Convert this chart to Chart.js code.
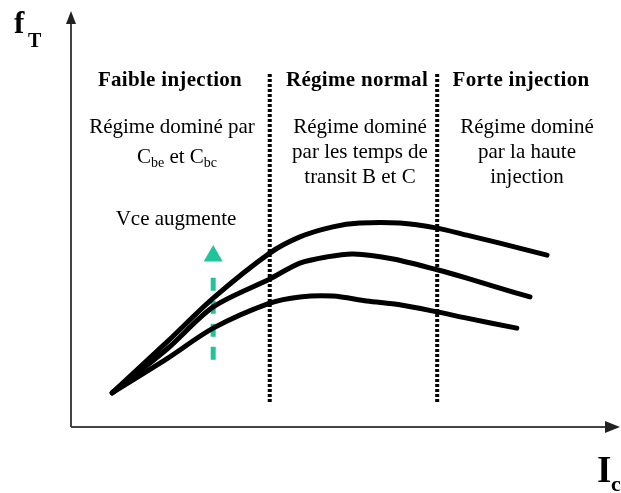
<!DOCTYPE html>
<html>
<head>
<meta charset="utf-8">
<script src="https://cdn.jsdelivr.net/npm/chart.js@4/dist/chart.umd.min.js"></script>
<style>
html,body{margin:0;padding:0;background:#fff;}
#wrap{width:621px;height:493px;position:relative;}
</style>
</head>
<body>
<div id="wrap"><canvas id="c" width="621" height="493"></canvas></div>
<script>
// ---- data (arbitrary units: Ic on x, fT on y) ----
const curveHighX = [0.75, 1.75, 2.59, 3.62, 4.17, 4.77, 5.26, 5.99, 6.67, 7.21, 7.81, 8.31, 8.67];
const curveHighY = [0.82, 2.04, 3.09, 4.17, 4.56, 4.80, 4.89, 4.89, 4.77, 4.60, 4.41, 4.24, 4.12];
const curveMidX  = [0.75, 1.75, 2.59, 3.62, 4.17, 4.66, 5.14, 5.87, 6.67, 7.21, 7.81, 8.36];
const curveMidY  = [0.82, 1.87, 2.88, 3.55, 3.93, 4.08, 4.15, 4.03, 3.77, 3.57, 3.33, 3.12];
const curveLowX  = [0.75, 1.75, 2.59, 3.62, 4.17, 4.77, 5.39, 5.99, 6.67, 7.21, 8.12];
const curveLowY  = [0.82, 1.64, 2.37, 2.97, 3.12, 3.14, 3.02, 2.93, 2.76, 2.61, 2.37];
const regionBounds = [3.62, 6.67];
const regionSpanY = [0.60, 8.51];
const vceArrowX = 2.59;
const vceArrowShaftY = [1.61, 3.65];
const vceArrowHeadY = 4.10;
const regionTitles = ["Faible injection", "Régime normal", "Forte injection"];
const regionDescriptions = [
  ["Régime dominé par"],
  ["Régime dominé", "par les temps de", "transit B et C"],
  ["Régime dominé", "par la haute", "injection"]
];
const vceLabel = "Vce augmente";

const pts = (xs, ys) => xs.map((x, i) => ({x: x, y: ys[i]}));

const curveStyle = {borderColor:'#000', borderWidth:5, pointRadius:0, tension:0.3, fill:false, borderCapStyle:'round', borderJoinStyle:'round'};
const datasets = [
  Object.assign({label:'haut', data: pts(curveHighX, curveHighY)}, curveStyle),
  Object.assign({label:'milieu', data: pts(curveMidX, curveMidY)}, curveStyle),
  Object.assign({label:'bas', data: pts(curveLowX, curveLowY)}, curveStyle)
];
regionBounds.forEach((b, i) => {
  datasets.push({label:'limite'+i, data: pts([b, b], regionSpanY), borderColor:'#000', borderWidth:4,
    borderDash:[3,2], pointRadius:0, tension:0, borderCapStyle:'butt'});
});
datasets.push({label:'vce', data: pts([vceArrowX, vceArrowX], vceArrowShaftY), borderColor:'#1fc49b', borderWidth:5,
  borderDash:[13,10], pointRadius:0, tension:0, borderCapStyle:'butt'});
datasets.push({label:'vceHead', data: [{x: vceArrowX, y: vceArrowHeadY}], showLine:false, pointStyle:'triangle',
  pointRadius:11, pointBackgroundColor:'#1fc49b', pointBorderColor:'#1fc49b', pointBorderWidth:0});

const decor = {
  id: 'decor',
  afterDatasetsDraw(chart) {
    const ctx = chart.ctx;
    const xs = chart.scales.x, ys = chart.scales.y;
    const x0 = xs.getPixelForValue(0), y0 = ys.getPixelForValue(0);
    const xEnd = xs.getPixelForValue(10), yEnd = ys.getPixelForValue(10);
    ctx.save();
    // axes
    ctx.strokeStyle = '#444'; ctx.fillStyle = '#222'; ctx.lineWidth = 2;
    ctx.beginPath(); ctx.moveTo(x0, y0); ctx.lineTo(xEnd - 10, y0); ctx.stroke();
    ctx.beginPath(); ctx.moveTo(x0, y0); ctx.lineTo(x0, yEnd + 10); ctx.stroke();
    ctx.beginPath(); ctx.moveTo(xEnd, y0); ctx.lineTo(xEnd - 15, y0 - 6); ctx.lineTo(xEnd - 15, y0 + 6); ctx.closePath(); ctx.fill();
    ctx.beginPath(); ctx.moveTo(x0, yEnd + 1); ctx.lineTo(x0 - 5, yEnd + 14); ctx.lineTo(x0 + 5, yEnd + 14); ctx.closePath(); ctx.fill();
    // texts
    ctx.fillStyle = '#000';
    ctx.textBaseline = 'alphabetic';
    ctx.textAlign = 'center';
    ctx.font = 'bold 21px "Liberation Serif"';
    try { ctx.letterSpacing = '0.3px'; } catch(e) {}
    const titleX = [170, 357, 521];
    regionTitles.forEach((t, i) => ctx.fillText(t, titleX[i], 86));
    try { ctx.letterSpacing = '0px'; } catch(e) {}
    ctx.font = '21px "Liberation Serif"';
    const descX = [172, 360, 527];
    regionDescriptions.forEach((lines, i) => {
      lines.forEach((l, j) => ctx.fillText(l, descX[i], 133 + 25 * j));
    });
    ctx.fillText(vceLabel, 176, 225);
    // C_be et C_bc
    ctx.textAlign = 'left';
    const parts = [['C', 21, 0], ['be', 14, 4], [' et C', 21, 0], ['bc', 14, 4]];
    let total = 0;
    parts.forEach(p => { ctx.font = p[1] + 'px "Liberation Serif"'; total += ctx.measureText(p[0]).width; });
    let cx = 177 - total / 2;
    parts.forEach(p => { ctx.font = p[1] + 'px "Liberation Serif"'; ctx.fillText(p[0], cx, 163 + p[2]); cx += ctx.measureText(p[0]).width; });
    // axis titles
    ctx.font = 'bold 31px "Liberation Serif"'; ctx.fillText('f', 14, 33);
    ctx.font = 'bold 20px "Liberation Serif"'; ctx.fillText('T', 28, 47);
    ctx.font = 'bold 37px "Liberation Serif"'; ctx.fillText('I', 597, 482);
    ctx.font = 'bold 22px "Liberation Serif"'; ctx.fillText('c', 611, 491);
    ctx.restore();
  }
};

new Chart(document.getElementById('c'), {
  type: 'line',
  data: { datasets: datasets },
  options: {
    responsive: false,
    animation: false,
    events: [],
    layout: { autoPadding: false, padding: { left: 71, right: 1, top: 10, bottom: 66 } },
    plugins: { legend: { display: false }, tooltip: { enabled: false } },
    scales: {
      x: { type: 'linear', min: 0, max: 10, display: false },
      y: { type: 'linear', min: 0, max: 10, display: false }
    }
  },
  plugins: [decor]
});
</script>
</body>
</html>
